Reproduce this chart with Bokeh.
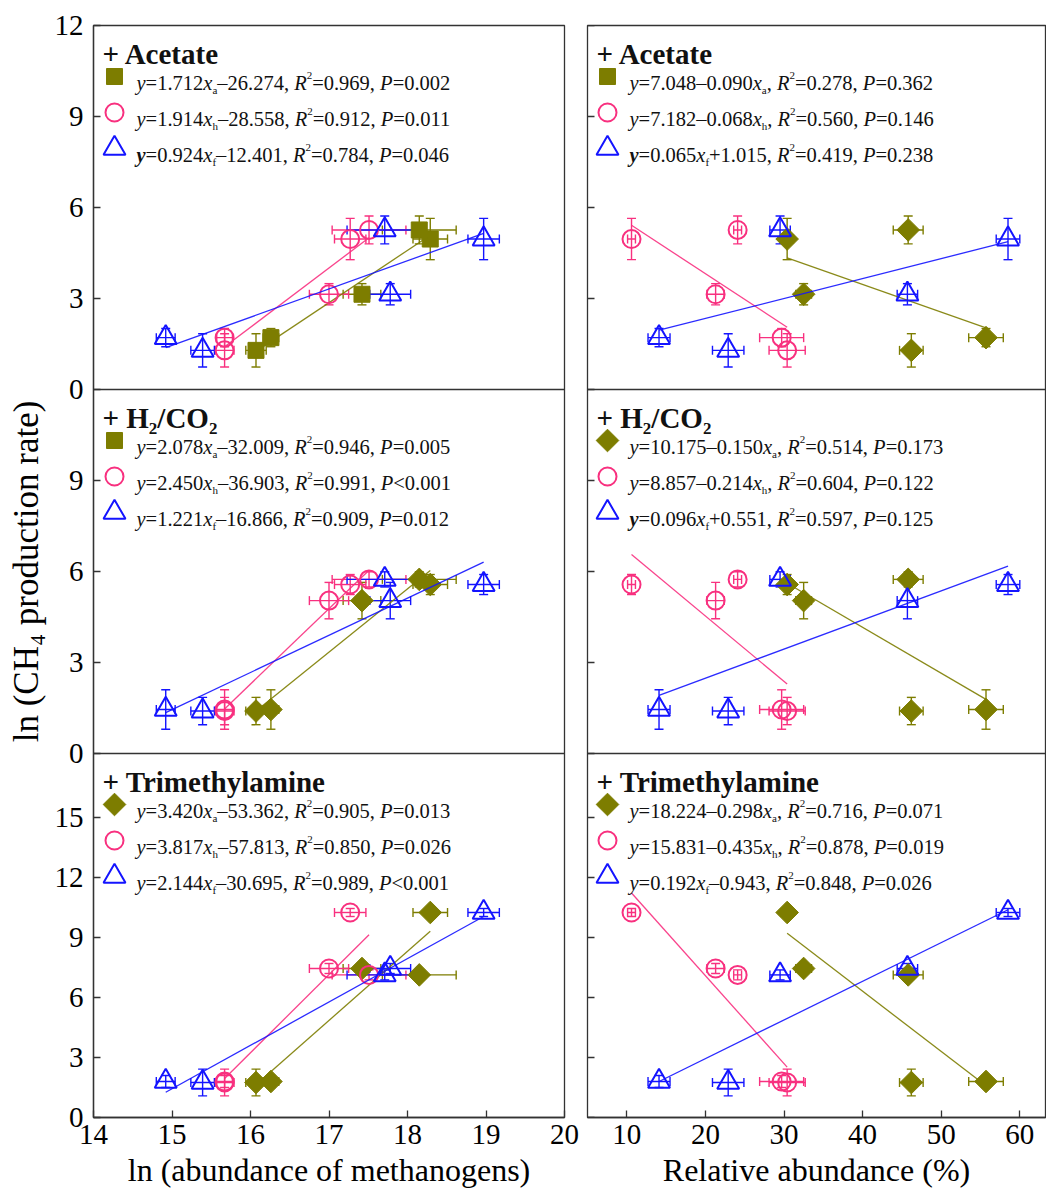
import re
import numpy as np
from bokeh.plotting import figure
from bokeh.models import Range1d, FixedTicker, Span, Whisker, TeeHead, ColumnDataSource
from bokeh.layouts import row
from bokeh.embed import file_html
from bokeh.resources import INLINE
from bokeh.core.properties import value, field

# ---------------- data (5 samples, A..E) ----------------
# ln(abundance) of acetoclastic (a), hydrogenotrophic (h) and methylotrophic/other (f) methanogens
ln_abund_a = [16.07, 16.26, 17.42, 18.29, 18.15]
ln_abund_h = [15.67, 15.67, 17.00, 17.27, 17.51]
ln_abund_f = [15.39, 14.92, 17.78, 18.97, 17.71]
ln_err_a = [0.13, 0.10, 0.24, 0.22, 0.47]
ln_err_h = [0.12, 0.10, 0.25, 0.20, 0.47]
ln_err_f = [0.15, 0.12, 0.26, 0.20, 0.48]
# relative abundance (%)
rel_abund_a = [46.2, 55.7, 32.5, 30.4, 45.8]
rel_abund_h = [30.4, 29.7, 21.3, 10.6, 24.1]
rel_abund_f = [22.9, 14.1, 45.7, 58.5, 29.5]
rel_err_a = [1.5, 2.2, 1.0, 0.8, 1.9]
rel_err_h = [2.3, 2.8, 1.1, 0.5, 0.5]
rel_err_f = [2.0, 1.4, 1.3, 1.5, 1.3]
# ln(CH4 production rate) per treatment
ch4_acetate = [1.29, 1.71, 3.14, 4.96, 5.26]
ch4_acetate_err = [0.55, 0.30, 0.35, 0.68, 0.46]
ch4_h2co2 = [1.40, 1.45, 5.04, 5.57, 5.74]
ch4_h2co2_err = [0.45, 0.65, 0.60, 0.33, 0.25]
ch4_tma = [1.75, 1.80, 7.45, 10.25, 7.13]
ch4_tma_err = [0.67, 0.30, 0.25, 0.20, 0.25]

panel_titles = {"ace": "+ Acetate", "h2": "+ H_2/CO_2", "tma": "+ Trimethylamine"}
eq_ln_acetate = ["*y*=1.712*x*_a–26.274, *R*^2=0.969, *P*=0.002",
                 "*y*=1.914*x*_h–28.558, *R*^2=0.912, *P*=0.011",
                 "**y**=0.924*x*_f–12.401, *R*^2=0.784, *P*=0.046"]
eq_rel_acetate = ["*y*=7.048–0.090*x*_a, *R*^2=0.278, *P*=0.362",
                  "*y*=7.182–0.068*x*_h, *R*^2=0.560, *P*=0.146",
                  "**y**=0.065*x*_f+1.015, *R*^2=0.419, *P*=0.238"]
eq_ln_h2co2 = ["*y*=2.078*x*_a–32.009, *R*^2=0.946, *P*=0.005",
               "*y*=2.450*x*_h–36.903, *R*^2=0.991, *P*<0.001",
               "*y*=1.221*x*_f–16.866, *R*^2=0.909, *P*=0.012"]
eq_rel_h2co2 = ["*y*=10.175–0.150*x*_a, *R*^2=0.514, *P*=0.173",
                "*y*=8.857–0.214*x*_h, *R*^2=0.604, *P*=0.122",
                "**y**=0.096*x*_f+0.551, *R*^2=0.597, *P*=0.125"]
eq_ln_tma = ["*y*=3.420*x*_a–53.362, *R*^2=0.905, *P*=0.013",
             "*y*=3.817*x*_h–57.813, *R*^2=0.850, *P*=0.026",
             "*y*=2.144*x*_f–30.695, *R*^2=0.989, *P*<0.001"]
eq_rel_tma = ["*y*=18.224–0.298*x*_a, *R*^2=0.716, *P*=0.071",
              "*y*=15.831–0.435*x*_h, *R*^2=0.878, *P*=0.019",
              "*y*=0.192*x*_f–0.943, *R*^2=0.848, *P*=0.026"]

y_ticks = {"ace": [0, 3, 6, 9, 12], "h2": [0, 3, 6, 9], "tma": [0, 3, 6, 9, 12, 15]}
x_ticks_ln = [14, 15, 16, 17, 18, 19, 20]
x_ticks_rel = [10, 20, 30, 40, 50, 60]

# ---------------- style / layout ----------------
FONT = "Liberation Serif"
OLIVE = "#7d7d00"
PINK = "#f8307f"
BLUE = "#1414ff"
FRAME = "#333333"
FH = 1092
# panel bands in frame pixels from bottom: (b0, b1, v0, v1)
BANDS = {"ace": (728, 1092, 0, 12), "h2": (364, 728, 0, 12), "tma": (0, 364, 0, 18.2)}

CH4 = {"ace": (ch4_acetate, ch4_acetate_err), "h2": (ch4_h2co2, ch4_h2co2_err), "tma": (ch4_tma, ch4_tma_err)}
XDATA = {"ln": {"a": (ln_abund_a, ln_err_a), "h": (ln_abund_h, ln_err_h), "f": (ln_abund_f, ln_err_f)},
         "rel": {"a": (rel_abund_a, rel_err_a), "h": (rel_abund_h, rel_err_h), "f": (rel_abund_f, rel_err_f)}}
EQS = {"ln": {"ace": eq_ln_acetate, "h2": eq_ln_h2co2, "tma": eq_ln_tma},
       "rel": {"ace": eq_rel_acetate, "h2": eq_rel_h2co2, "tma": eq_rel_tma}}
COLORS = {"a": OLIVE, "h": PINK, "f": BLUE}

# Times / Liberation Serif advance widths (per 1000 em)
W_ROMAN = {' ': 250, '%': 833, '(': 333, ')': 333, '+': 564, ',': 250, '-': 333, '.': 250, '/': 278,
           '<': 564, '=': 564, '>': 564, '–': 500, 'A': 722, 'C': 667, 'H': 722, 'O': 722, 'P': 556,
           'R': 667, 'T': 611, 'a': 444, 'b': 500, 'c': 444, 'd': 500, 'e': 444, 'f': 333, 'g': 500,
           'h': 500, 'i': 278, 'l': 278, 'm': 778, 'n': 500, 'o': 500, 'r': 333, 's': 389, 't': 278,
           'u': 500, 'v': 500, 'x': 500, 'y': 500}
W_ITALIC = dict(W_ROMAN, **{'y': 444, 'x': 444, 'R': 611, 'P': 611, 'a': 500, 'h': 500, 'f': 278})
W_BOLD = dict(W_ROMAN, **{'+': 570, 'A': 722, 'C': 722, 'H': 778, 'O': 778, 'T': 667, 'a': 500, 'c': 444,
                          'e': 444, 'h': 556, 'i': 278, 'l': 278, 'm': 833, 'n': 556, 'r': 444, 't': 333,
                          'y': 500})
W_BOLDITALIC = dict(W_ITALIC, **{'y': 444})
TABLES = {"normal": W_ROMAN, "italic": W_ITALIC, "bold": W_BOLD, "bold italic": W_BOLDITALIC}


def text_width(s, style, size):
    tab = TABLES[style]
    return sum(tab.get(ch, 500) for ch in s) / 1000.0 * size


TOK = re.compile(r"\*\*(.+?)\*\*|\*(.+?)\*|_(.)|\^(.)|([^*_^]+)")


def layout_markup(markup, x0, y0, size, sub_size, sub_dy, sup_dy, base_style):
    out = []
    x = x0
    for m in TOK.finditer(markup):
        bi, it, sub, sup, plain = m.groups()
        if bi:
            s, st, sz, dy = bi, "bold italic", size, 0
        elif it:
            s, st, sz, dy = it, "italic", size, 0
        elif sub:
            s, st, sz, dy = sub, base_style, sub_size, -sub_dy
        elif sup:
            s, st, sz, dy = sup, base_style, sub_size, sup_dy
        else:
            s, st, sz, dy = plain, base_style, size, 0
        out.append((x, y0 + dy, s, st, sz))
        x += text_width(s, st, sz)
    return out


def band_range(key):
    b0, b1, v0, v1 = BANDS[key]
    s = (b1 - b0) / (v1 - v0)
    return Range1d(v0 - b0 / s, v0 + (FH - b0) / s)


def a_marker(col, treat, legend):
    square = (treat == "ace" and (col == "ln" or legend)) or (legend and treat == "h2" and col == "ln")
    if square:
        return dict(marker="square", size=16, angle=0.0, fill_color=OLIVE, line_color=OLIVE)
    return dict(marker="square", size=16, angle=np.pi / 4, fill_color=OLIVE, line_color=OLIVE)


def g_marker(g, col, treat, legend=False):
    if g == "a":
        return a_marker(col, treat, legend)
    if g == "h":
        return dict(marker="circle", size=18, fill_color=None, line_color=PINK, line_width=2)
    return dict(marker="triangle", size=22, fill_color=None, line_color=BLUE, line_width=2)


def build_column(col):
    left = col == "ln"
    fw = 471 if left else 458
    xr = (14, 20) if left else (5, 5 + fw / 7.86)
    p = figure(x_range=Range1d(*xr), y_range=Range1d(0, FH),
               frame_width=fw, frame_height=FH,
               min_border_left=93 if left else 7, min_border_right=16 if left else 1,
               min_border_top=25, min_border_bottom=75,
               output_backend="svg", toolbar_location=None, tools="",
               background_fill_color="white", border_fill_color="white")
    p.extra_x_ranges = {"px": Range1d(0, fw)}
    p.extra_y_ranges = {k: band_range(k) for k in BANDS}
    p.grid.visible = False
    p.outline_line_color = FRAME
    p.outline_line_width = 1.3

    # y ticks for each stacked panel (positions in frame pixels)
    ypos, ylab = [], {}
    for k, (b0, b1, v0, v1) in BANDS.items():
        for v in y_ticks[k]:
            pos = round(b0 + (v - v0) * (b1 - b0) / (v1 - v0), 6)
            ypos.append(pos)
            ylab[pos] = str(v)
    yax = p.yaxis[0]
    xax = p.xaxis[0]
    xax.ticker = FixedTicker(ticks=x_ticks_ln if left else x_ticks_rel)
    axes = [xax]
    if left:
        yax.ticker = FixedTicker(ticks=ypos)
        yax.major_label_overrides = ylab
        axes.append(yax)
    else:
        yax.visible = False
        # inward tick marks on the left edge of the right-hand column
        p.segment(x0=[0] * len(ypos), x1=[7] * len(ypos), y0=ypos, y1=ypos, x_range_name="px",
                  line_color=FRAME, line_width=1.3)
    for ax in axes:
        ax.major_tick_in = 7
        ax.major_tick_out = 0
        ax.minor_tick_line_color = None
        ax.axis_line_color = FRAME
        ax.axis_line_width = 1.3
        ax.major_tick_line_color = FRAME
        ax.major_tick_line_width = 1.3
        ax.major_label_text_font = FONT
        ax.major_label_text_font_size = "29px"
        ax.major_label_text_color = "black"
        ax.axis_label_text_font = FONT
        ax.axis_label_text_font_size = "32px"
        ax.axis_label_text_font_style = "normal"
        ax.axis_label_text_color = "black"
    xax.major_label_standoff = 7
    xax.axis_label_standoff = 5
    xax.axis_label = "ln (abundance of methanogens)" if left else "Relative abundance (%)"
    if left:
        yax.major_label_standoff = 10
        yax.axis_label = "ln (CH₄ production rate)"
        yax.axis_label_text_font_size = "35px"
        yax.axis_label_standoff = 6

    # panel separators
    for b in (364, 728):
        p.add_layout(Span(location=b, dimension="width", line_color=FRAME, line_width=1.3))

    xname = "px"
    mx = 21 if left else 20
    tx = 43 if left else 42
    texts = []
    for treat in ("ace", "h2", "tma"):
        yv, ye = CH4[treat]
        yv = np.array(yv)
        ye = np.array(ye)
        for g in ("a", "h", "f"):
            xv, xe = XDATA[col][g]
            xv = np.array(xv)
            xe = np.array(xe)
            c = COLORS[g]
            # regression line over the sampled range
            k, b = np.polyfit(xv, yv, 1)
            xs = np.array([xv.min(), xv.max()])
            p.line(xs, k * xs + b, y_range_name=treat, line_color=c, line_width=1.3, line_alpha=0.9)
            src = ColumnDataSource(dict(x=xv, y=yv, xl=xv - xe, xu=xv + xe, yl=yv - ye, yu=yv + ye))
            for dim, base, lo, up in (("height", "x", "yl", "yu"), ("width", "y", "xl", "xu")):
                p.add_layout(Whisker(source=src, base=base, lower=lo, upper=up, dimension=dim,
                                     y_range_name=treat, line_color=c, line_width=1.4,
                                     upper_head=TeeHead(size=9, line_color=c, line_width=1.4),
                                     lower_head=TeeHead(size=9, line_color=c, line_width=1.4)))
            p.scatter("x", "y", source=src, y_range_name=treat, **g_marker(g, col, treat))

        # legend block
        top = BANDS[treat][1]
        texts += layout_markup(panel_titles[treat], 9, top - 28, 29, 17, 11, 0, "bold")
        for i, g in enumerate(("a", "h", "f")):
            p.scatter([mx], [top - 51 - 36 * i], x_range_name=xname, **g_marker(g, col, treat, legend=True))
            texts += layout_markup(EQS[col][treat][i], tx, top - 57.5 - 36 * i, 20.5, 11, 6.5, 8, "normal")

    tsrc = ColumnDataSource(dict(x=[t[0] for t in texts], y=[t[1] for t in texts], text=[t[2] for t in texts],
                                 style=[t[3] for t in texts], size=[f"{t[4]}px" for t in texts]))
    p.text(x="x", y="y", text="text", source=tsrc, x_range_name=xname,
           text_font=value(FONT), text_font_style=field("style"), text_font_size=field("size"),
           text_color="#111111", text_align="left", text_baseline="alphabetic")
    return p


layout = row(build_column("ln"), build_column("rel"))
open("out.html", "w").write(file_html(layout, INLINE))
